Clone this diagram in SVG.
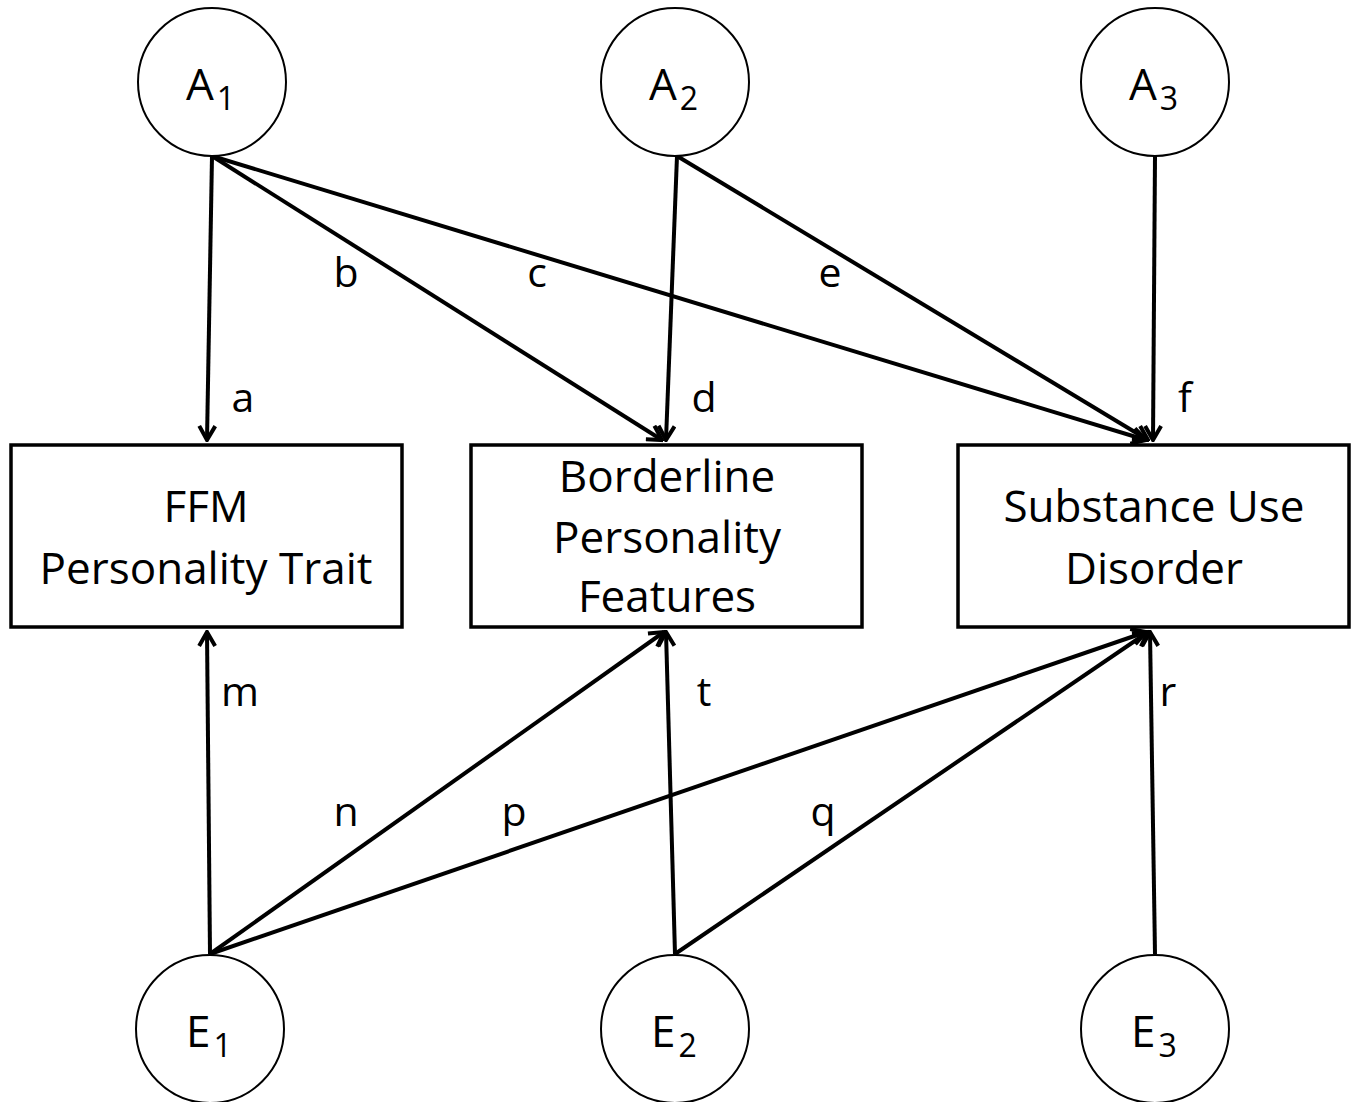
<svg xmlns="http://www.w3.org/2000/svg" width="1356" height="1102" viewBox="0 0 1356 1102">
<style>
.node circle{fill:#fff;stroke:#000;stroke-width:2}
.node rect{fill:#fff;stroke:#000;stroke-width:3.5}
text{font-family:"Open Sans","Liberation Sans",sans-serif;fill:#000}
.lbl{font-size:44px;text-anchor:middle}
.cl{font-size:44px}
.sub{font-size:32px}
.el{font-size:41px}
.conn line{stroke:#000;stroke-width:4;marker-end:url(#arr)}
</style>
<defs>
<marker id="arr" markerUnits="userSpaceOnUse" viewBox="-16 -10 18 20" refX="0" refY="0" markerWidth="18" markerHeight="20" orient="auto">
<path d="M-14,-8 L0,0 L-14,8" fill="none" stroke="#000" stroke-width="4"/>
</marker>
</defs>
<rect width="1356" height="1102" fill="#fff"/>
<g class="conn">
<line x1="212" y1="156" x2="207" y2="440"/>
<line x1="212" y1="156" x2="662" y2="440"/>
<line x1="212" y1="156" x2="1146" y2="440"/>
<line x1="677" y1="156" x2="666" y2="440"/>
<line x1="677" y1="156" x2="1148" y2="440"/>
<line x1="1155" y1="156" x2="1153" y2="440"/>
<line x1="210" y1="954" x2="207" y2="632"/>
<line x1="210" y1="954" x2="664" y2="632"/>
<line x1="675" y1="954" x2="666" y2="632"/>
<line x1="210" y1="954" x2="1146" y2="632"/>
<line x1="675" y1="954" x2="1148" y2="632"/>
<line x1="1155" y1="954" x2="1150" y2="632"/>
</g>
<g class="edge-labels">
<text class="el" x="243" y="412" text-anchor="middle">a</text>
<text class="el" x="346" y="287" text-anchor="middle">b</text>
<text class="el" x="537" y="287" text-anchor="middle">c</text>
<text class="el" x="704" y="412" text-anchor="middle">d</text>
<text class="el" x="830" y="287" text-anchor="middle">e</text>
<text class="el" x="1185" y="412" text-anchor="middle">f</text>
<text class="el" x="240" y="706" text-anchor="middle">m</text>
<text class="el" x="346" y="826" text-anchor="middle">n</text>
<text class="el" x="514" y="826" text-anchor="middle">p</text>
<text class="el" x="823" y="826" text-anchor="middle">q</text>
<text class="el" x="704" y="706" text-anchor="middle">t</text>
<text class="el" x="1168" y="706" text-anchor="middle">r</text>
</g>
<g id="A1" class="node"><circle cx="212" cy="82" r="74"/><text class="cl" x="186" y="100">A<tspan class="sub" dx="3" dy="10">1</tspan></text></g>
<g id="A2" class="node"><circle cx="675" cy="82" r="74"/><text class="cl" x="649" y="100">A<tspan class="sub" dx="3" dy="10">2</tspan></text></g>
<g id="A3" class="node"><circle cx="1155" cy="82" r="74"/><text class="cl" x="1129" y="100">A<tspan class="sub" dx="3" dy="10">3</tspan></text></g>
<g id="E1" class="node"><circle cx="210" cy="1029" r="74"/><text class="cl" x="186" y="1047">E<tspan class="sub" dx="3" dy="10">1</tspan></text></g>
<g id="E2" class="node"><circle cx="675" cy="1029" r="74"/><text class="cl" x="651" y="1047">E<tspan class="sub" dx="3" dy="10">2</tspan></text></g>
<g id="E3" class="node"><circle cx="1155" cy="1029" r="74"/><text class="cl" x="1131" y="1047">E<tspan class="sub" dx="3" dy="10">3</tspan></text></g>
<g id="FFM" class="node"><rect x="11" y="445" width="391" height="182"/><text class="lbl" x="206" y="522">FFM</text><text class="lbl" x="206" y="584">Personality Trait</text></g>
<g id="BPF" class="node"><rect x="471" y="445" width="391" height="182"/><text class="lbl" x="667" y="492">Borderline</text><text class="lbl" x="667" y="553">Personality</text><text class="lbl" x="667" y="612">Features</text></g>
<g id="SUD" class="node"><rect x="958" y="445" width="391" height="182"/><text class="lbl" x="1154" y="522">Substance Use</text><text class="lbl" x="1154" y="584">Disorder</text></g>
</svg>
